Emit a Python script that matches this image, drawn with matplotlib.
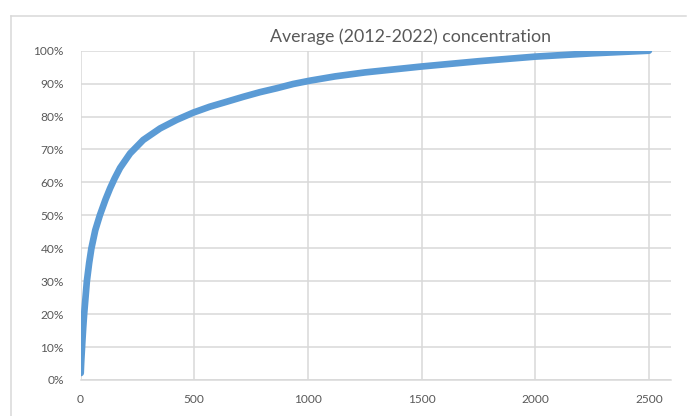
import matplotlib.pyplot as plt
from matplotlib.lines import Line2D
from matplotlib.ticker import PercentFormatter

# cumulative share (rank -> % of total)
rank = [1, 2, 3, 4, 6, 8, 12, 16, 22, 28, 38, 48, 65, 85, 110, 130, 150,
        174, 218, 276, 350, 423, 496, 569, 643, 716, 789, 863, 936, 1009,
        1120, 1250, 1500, 1750, 2000, 2250, 2500]
share = [2.1, 3.8, 5.3, 6.6, 9.0, 11.5, 16.0, 20.0, 25.0, 30.0, 35.5, 40.0,
         45.5, 50.0, 54.8, 58.2, 61.2, 64.4, 68.8, 72.9, 76.4, 79.0, 81.2,
         83.0, 84.5, 86.0, 87.4, 88.6, 89.9, 90.9, 92.2, 93.4, 95.2, 96.8,
         98.2, 99.2, 100.0]

title = "Average (2012-2022) concentration"
x_ticks = [0, 500, 1000, 1500, 2000, 2500]
y_ticks = [0, 10, 20, 30, 40, 50, 60, 70, 80, 90, 100]

blue = "#5B9BD5"
grid = "#D9D9D9"
txt = "#595959"

plt.rcParams['font.family'] = ['Lato', 'DejaVu Sans']

W, H = 696, 416
fig = plt.figure(figsize=(W / 100, H / 100), dpi=100)
ax = fig.add_axes([80.5 / W, 1 - 380 / H, (671 - 80.5) / W, (380 - 50.7) / H])

ax.plot(rank, share, color=blue, lw=4.8, solid_capstyle='round',
        solid_joinstyle='round', zorder=3)

ax.set_xlim(0, 2597)
ax.set_ylim(0, 100)
ax.set_xticks(x_ticks)
ax.set_yticks(y_ticks)
ax.yaxis.set_major_formatter(PercentFormatter(decimals=0))
ax.grid(True, color=grid, lw=1.1, zorder=0)
ax.set_axisbelow(True)
for s in ['top', 'right', 'left']:
    ax.spines[s].set_visible(False)
ax.spines['bottom'].set_color(grid)
ax.spines['bottom'].set_linewidth(1.1)
ax.tick_params(length=0, labelsize=8.6, labelcolor=txt)
ax.tick_params(axis='y', pad=12)
ax.tick_params(axis='x', pad=10)

fig.text(410.5 / W, 1 - 41.7 / H, title, ha='center', va='baseline',
         fontsize=12.8, color=txt)

# chart area border (cropped)
fig.add_artist(Line2D([10.5 / W, 686 / W], [1 - 15.5 / H, 1 - 15.5 / H],
                      color=grid, lw=1.1, transform=fig.transFigure))
fig.add_artist(Line2D([10.5 / W, 10.5 / W], [0, 1 - 15.5 / H],
                      color=grid, lw=1.1, transform=fig.transFigure))

fig.savefig("out.png", dpi=100)
